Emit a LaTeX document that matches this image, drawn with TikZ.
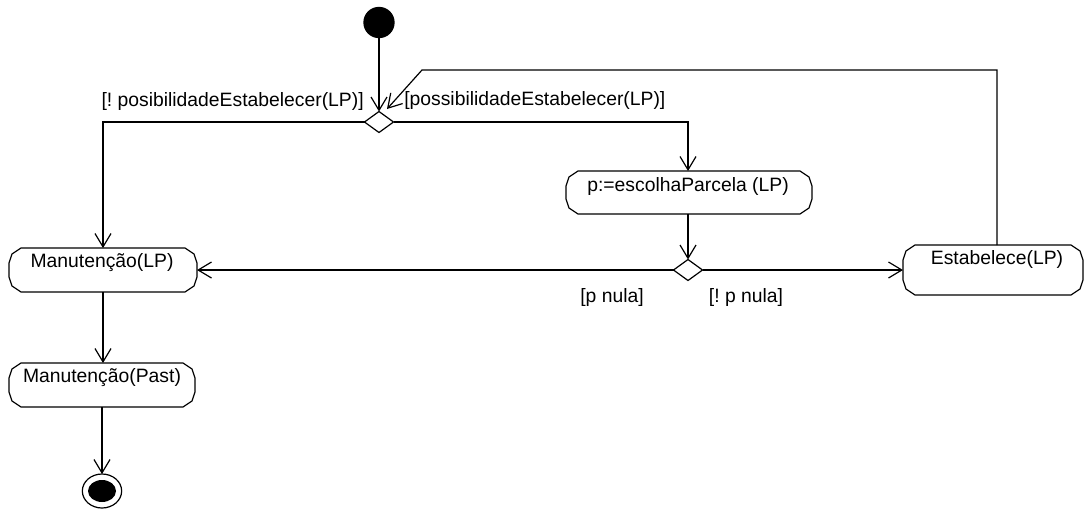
\documentclass[tikz,border=0pt]{standalone}
\usepackage{fontspec}
\setmainfont{Liberation Sans}
\usetikzlibrary{arrows.meta,shapes.geometric,calc}
\frenchspacing
\tikzset{
  ln/.style={line width=0.9pt, black},
  arr/.style={ln, -{Straight Barb[length=10pt,width=12pt,line width=0.9pt]}},
  holder/.style={rectangle, draw=none, inner sep=0pt, outer sep=0pt},
  txt/.style={inner sep=0pt, font=\fontsize{14.5pt}{17pt}\selectfont},
  dec/.style={diamond, draw, ln, fill=white, inner sep=0pt, outer sep=0pt, minimum width=21.75pt, minimum height=15.75pt},
}
\newcommand{\actshape}[1]{%
  \draw[ln] ($(#1.north west)+(12,0)$) -- ($(#1.north west)+(3,6)$) -- ($(#1.north west)+(0,15)$)
   -- ($(#1.south west)+(0,-15)$) -- ($(#1.south west)+(3,-6)$) -- ($(#1.south west)+(12,0)$)
   -- ($(#1.south east)+(-12,0)$) -- ($(#1.south east)+(-3,-6)$) -- ($(#1.south east)+(0,-15)$)
   -- ($(#1.north east)+(0,15)$) -- ($(#1.north east)+(-3,6)$) -- ($(#1.north east)+(-12,0)$) -- cycle;}
\begin{document}
\begin{tikzpicture}[x=0.75pt,y=-0.75pt]
\useasboundingbox (0,0) rectangle (1085,508);
% initial and final nodes
\node[circle, fill=black, inner sep=0pt, outer sep=0pt, minimum size=23.5pt] (s) at (379,22.5) {};
\node[ellipse, draw, ln, inner sep=0pt, outer sep=0pt, minimum width=29.5pt, minimum height=25.5pt] (f) at (102,491) {};
\node[ellipse, fill=black, inner sep=0pt, minimum width=21pt, minimum height=16.5pt] (fi) at (102,491) {};
% decisions
\node[dec] (d1) at (379,122) {};
\node[dec] (d2) at (688,270) {};
% activity boxes
\node[holder, minimum width=141pt, minimum height=33pt] (m1) at (103,270) {};
\node[holder, minimum width=139.5pt, minimum height=33pt] (m2) at (102,385) {};
\node[holder, minimum width=184.5pt, minimum height=32.25pt] (p) at (689,192.5) {};
\node[holder, minimum width=135pt, minimum height=37.5pt] (e) at (993,270) {};
\actshape{m1}
\actshape{m2}
\actshape{p}
\actshape{e}
\node[txt] (m1t) at (102,263) {Manutenção(LP)};
\node[txt] (m2t) at (102,378) {Manutenção(Past)};
\node[txt] (pt) at (688,186) {p:=escolhaParcela (LP)};
\node[txt] (et) at (997,259) {Estabelece(LP)};
% guard labels
\node[txt, anchor=east] (g1) at (364,101) {[! posibilidadeEstabelecer(LP)]};
\node[txt, anchor=west] (g2) at (404,100) {[possibilidadeEstabelecer(LP)]};
\node[txt] (g3) at (612,297) {[p nula]};
\node[txt] (g4) at (746,297) {[! p nula]};
% connectors
\draw[arr] (s) -- (d1.north);
\draw[arr] (d1.west) -| (m1.north);
\draw[arr] (d1.east) -| (p.north -| d2);
\draw[arr] (p.south -| d2) -- (d2.north);
\draw[arr] (d2.west) -- (m1.east);
\draw[arr] (d2.east) -- (e.west);
\coordinate (c1) at (997,70);
\coordinate (c2) at (422,70);
\coordinate (r1) at (387,109);
\draw[arr] (e.north -| c1) -- (c1) -- (c2) -- (r1);
\draw[arr] (m1.south) -- (m2.north -| m1.south);
\draw[arr] (m2.south) -- (f.north);
\end{tikzpicture}
\end{document}
